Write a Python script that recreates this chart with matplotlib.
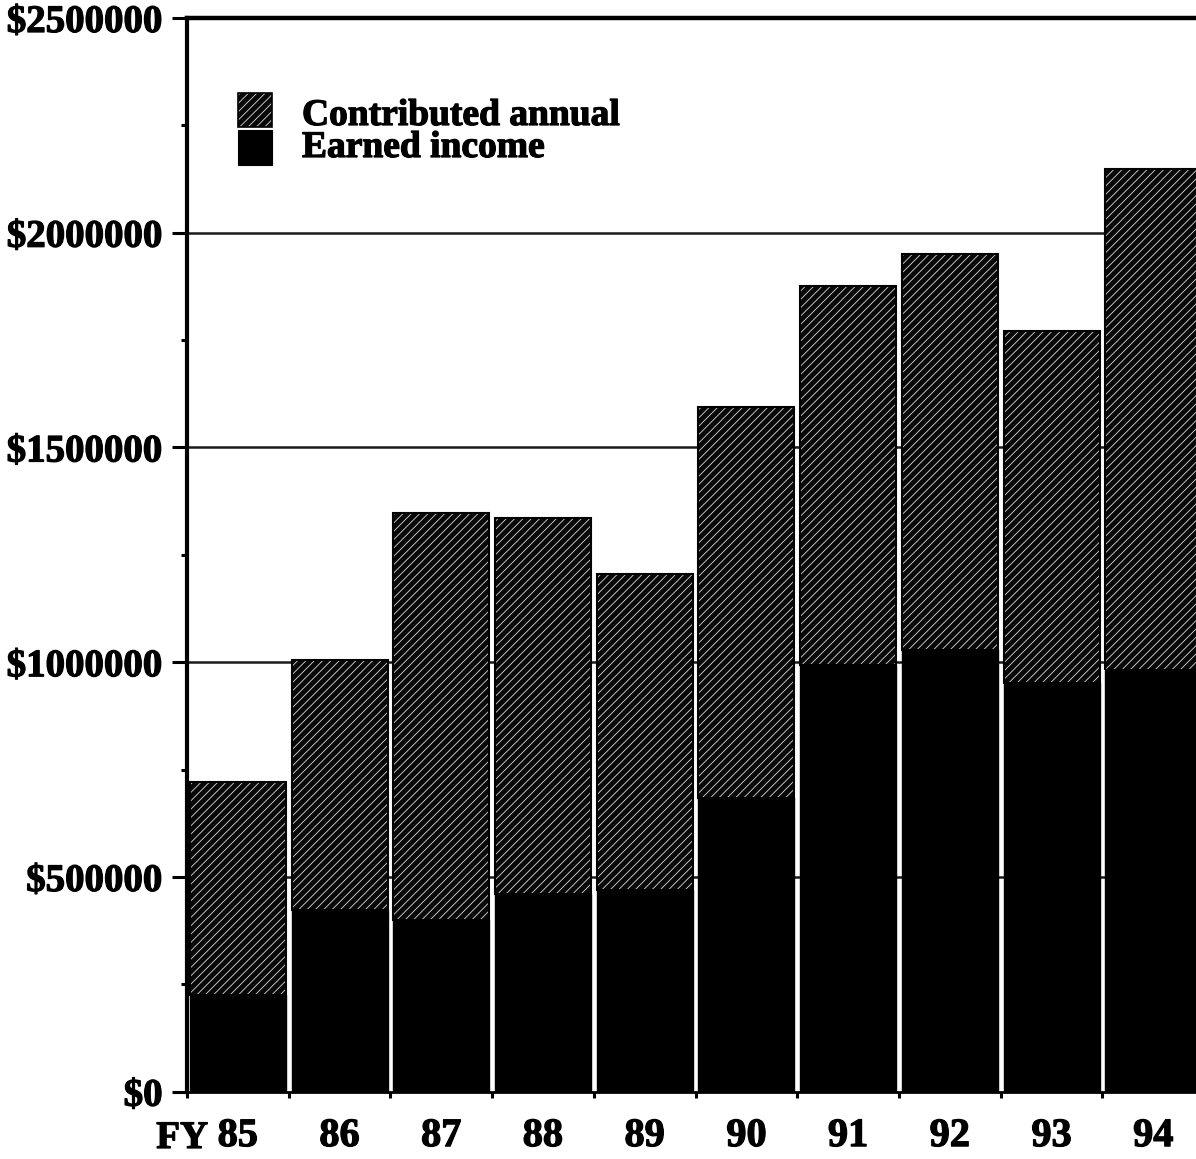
import matplotlib
matplotlib.use("Agg")
import matplotlib.pyplot as plt
from matplotlib.patches import Rectangle
from matplotlib.ticker import MultipleLocator, FuncFormatter
import matplotlib.patheffects as pe
import numpy as np

# Fiscal years and funding components (dollars)
years = ["85", "86", "87", "88", "89", "90", "91", "92", "93", "94"]
earned_income = [226000, 424000, 400000, 460000, 470000, 684000, 994000, 1029000, 952000, 982000]
contributed_annual = [494000, 581000, 948000, 876000, 736000, 911000, 882000, 921000, 819000, 1167000]
legend_labels = ["Contributed annual", "Earned income"]

SERIF = ["Liberation Serif", "DejaVu Serif"]
plt.rcParams["font.family"] = SERIF
plt.rcParams["font.weight"] = "bold"
plt.rcParams["hatch.linewidth"] = 0.6

# slightly heavier strokes for all lettering
INK = [pe.withStroke(linewidth=0.9, foreground="black")]

fig = plt.figure(figsize=(11.96, 11.59), dpi=100)
ax = fig.add_axes([0.15635, 0.05807, 0.84365, 0.9264])

x = np.arange(len(years))
width = 0.945
HATCH_FACE = "#080808"
HATCH_LINE = "#d8d8d8"

# Earned income: solid black
ax.bar(x, earned_income, width=width, color="black", edgecolor="black",
       linewidth=1.0, zorder=3)
# Contributed annual: dark fill with light diagonal hatch, stacked on top
ax.bar(x, contributed_annual, bottom=earned_income, width=width,
       facecolor=HATCH_FACE, edgecolor=HATCH_LINE, hatch="////",
       linewidth=0, zorder=3)
ax.bar(x, contributed_annual, bottom=earned_income, width=width,
       fill=False, edgecolor="black", linewidth=1.5, zorder=4)

# Axes limits and frame
ax.set_xlim(-0.5, 9.42)
ax.set_ylim(0, 2500000)
ax.spines["right"].set_visible(False)
ax.spines["left"].set_linewidth(3)
ax.spines["top"].set_linewidth(3.2)
ax.spines["bottom"].set_linewidth(2)

# Horizontal reference lines behind the bars
for level in [500000, 1000000, 1500000, 2000000]:
    ax.axhline(level, color="#1a1a1a", linewidth=1.8, zorder=1)

# Y axis ticks and dollar labels
ax.yaxis.set_major_locator(MultipleLocator(500000))
ax.yaxis.set_minor_locator(MultipleLocator(250000))
ax.yaxis.set_major_formatter(FuncFormatter(lambda v, p: f"${int(v)}"))
ax.tick_params(axis="y", which="major", direction="out", length=11,
               width=2.2, pad=6.5, labelsize=28)
ax.tick_params(axis="y", which="minor", direction="out", length=4, width=2.2)
for lab in ax.get_yticklabels():
    lab.set_fontweight("bold")
    lab.set_path_effects(INK)

# X axis: tick marks at category boundaries, labels under the bars
ax.set_xticks(x - 0.5)
ax.set_xticklabels([])
ax.tick_params(axis="x", which="major", direction="out", length=4, width=2.2)
ax.set_xticks(x, years, minor=True)
ax.tick_params(axis="x", which="minor", length=0, pad=19, labelsize=29)
for lab in ax.get_xticklabels(minor=True):
    lab.set_fontweight("bold")
    lab.set_path_effects(INK)

fig.text(208 / 1196, (1159 - 1148) / 1159, "FY", ha="right", va="baseline",
         fontsize=28, fontweight="bold", family=SERIF, path_effects=INK)

# Legend drawn as swatches with labels
fig.add_artist(Rectangle((238 / 1196, (1159 - 127) / 1159), 34 / 1196, 34 / 1159,
                         transform=fig.transFigure, facecolor=HATCH_FACE,
                         edgecolor=HATCH_LINE, hatch="////", linewidth=0))
fig.add_artist(Rectangle((238 / 1196, (1159 - 127) / 1159), 34 / 1196, 34 / 1159,
                         transform=fig.transFigure, fill=False,
                         edgecolor="black", linewidth=1.2))
fig.add_artist(Rectangle((238 / 1196, (1159 - 165) / 1159), 34 / 1196, 35 / 1159,
                         transform=fig.transFigure, facecolor="black",
                         edgecolor="black", linewidth=0.8))
fig.text(302 / 1196, (1159 - 125) / 1159, legend_labels[0], ha="left",
         va="baseline", fontsize=27, fontweight="bold", family=SERIF,
         path_effects=INK)
fig.text(302 / 1196, (1159 - 157) / 1159, legend_labels[1], ha="left",
         va="baseline", fontsize=27, fontweight="bold", family=SERIF,
         path_effects=INK)

fig.savefig("out.png", dpi=100)
